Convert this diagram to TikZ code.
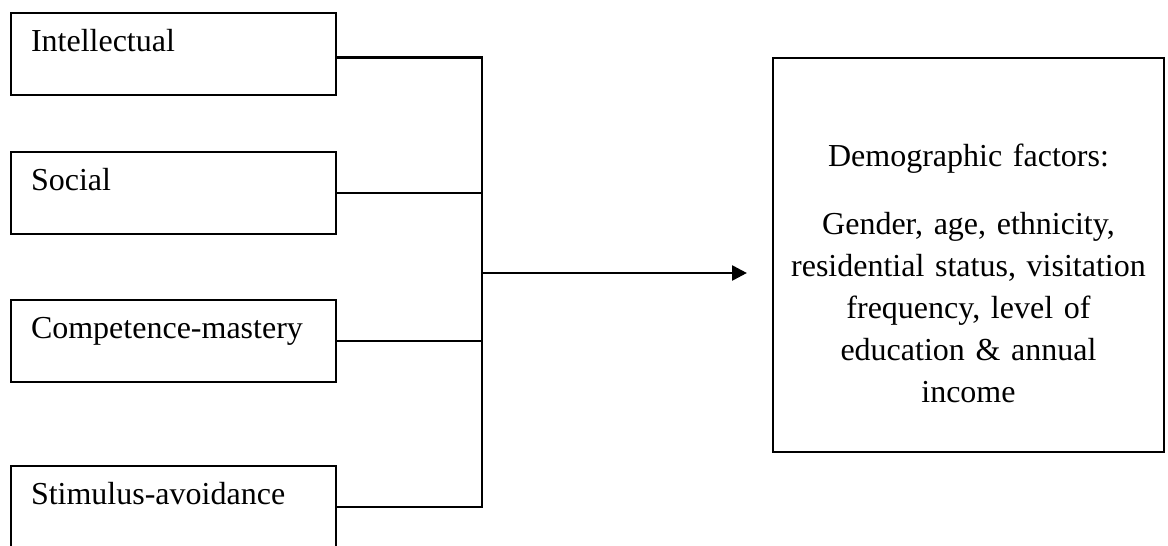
\documentclass[tikz,border=0pt]{standalone}
\usepackage{fontspec}
\setmainfont{Liberation Serif}
\usetikzlibrary{arrows.meta}

\tikzset{
  motive/.style={draw, line width=0.75pt, anchor=north west, align=left,
    text width=106.875pt, inner xsep=7.5pt, inner ysep=0pt,
    text height=14.6pt, text depth=16.1pt, font=\fontsize{12}{15.75}\selectfont},
  factors/.style={draw, line width=0.75pt, anchor=north west, align=center,
    text width=146.6pt, inner sep=0pt,
    text height=40.5pt, text depth=107.25pt, font=\fontsize{12}{15.75}\selectfont},
  link/.style={line width=1.05pt}
}

\begin{document}
\begin{tikzpicture}[x=0.375pt, y=-0.375pt]
    \useasboundingbox (0,0) rectangle (1168,545);
    % four motive boxes on the left
    \node[motive] (intel) at (10,12) {Intellectual};
    \node[motive] (social) at (10,151) {Social};
    \node[motive] (comp) at (10,299) {Competence-mastery};
    \node[motive] (stim) at (10,465) {Stimulus-avoidance};
    % box on the right
    \node[factors] (demo) at (772,57) {Demographic factors:\\[9.75pt]
        Gender, age, ethnicity,\\ residential status, visitation\\
        frequency, level of\\ education \& annual\\ income};
    % joining lines
    \coordinate (spine) at (482,273);
    \draw[link] ([yshift=-1.4pt]intel.east) -| (stim.east -| spine) -- (stim.east);
    \draw[link] (social.east) -- (social.east -| spine);
    \draw[link] (comp.east) -- (comp.east -| spine);
    \draw[link, -{Triangle[length=5.6pt, width=5.6pt]}, shorten >=9.4pt] (spine) -- (spine -| demo.west);
\end{tikzpicture}
\end{document}
